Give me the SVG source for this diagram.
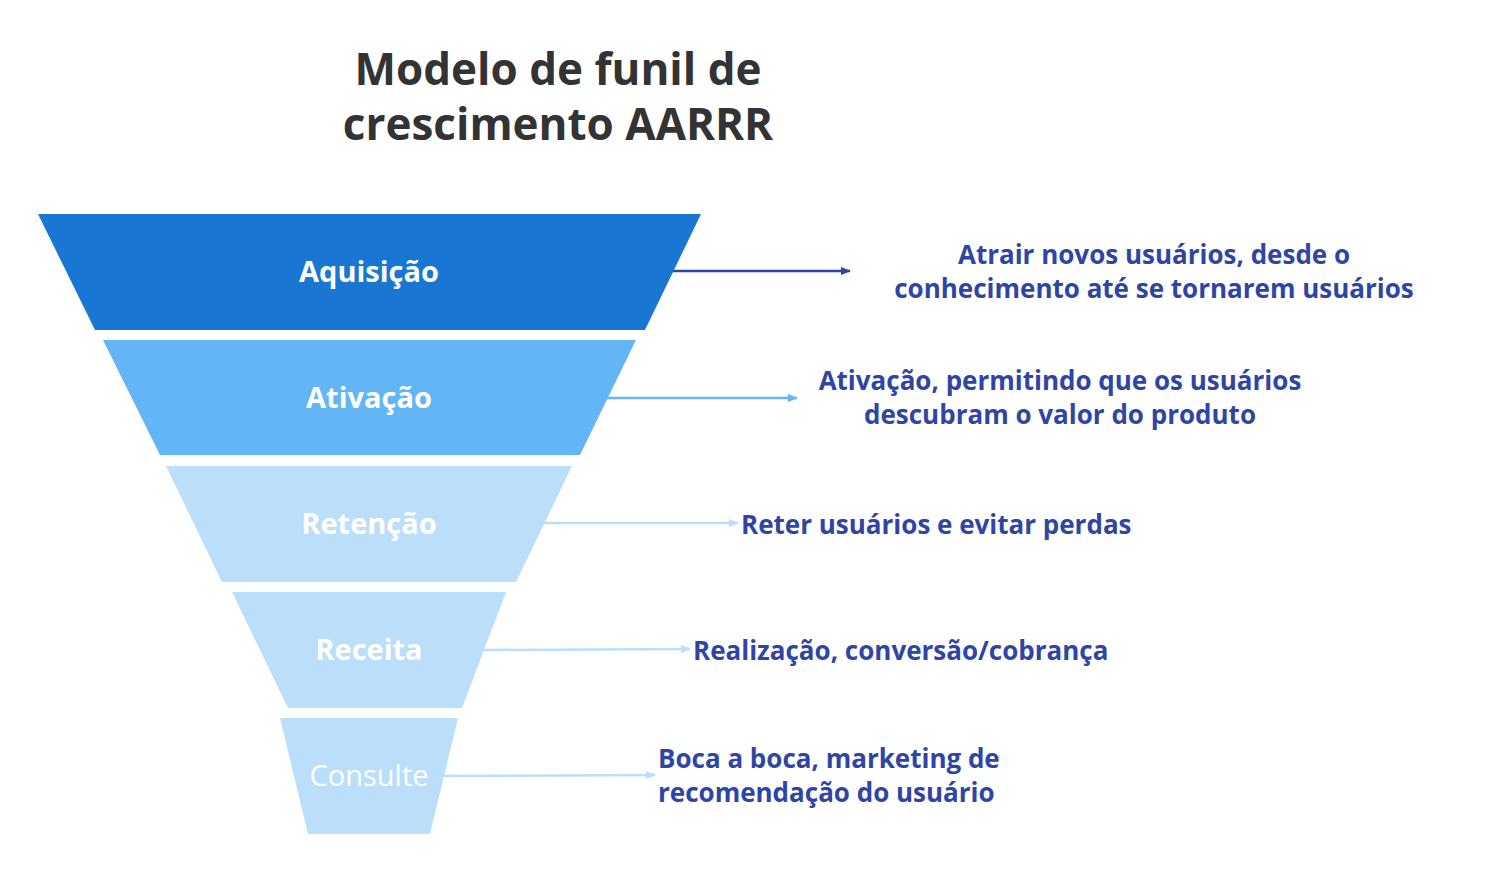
<svg xmlns="http://www.w3.org/2000/svg" width="1493" height="871" viewBox="0 0 1493 871">
<style>
.t{font-family:"Open Sans","Noto Sans","Liberation Sans",sans-serif;font-weight:bold;}
.lbl{font-size:29px;fill:#fff;text-anchor:middle;}
.d{font-size:26px;fill:#2f45a5;}
</style>
<defs>
<marker id="m1" markerWidth="10" markerHeight="8" refX="9" refY="4" orient="auto" markerUnits="userSpaceOnUse" viewBox="0 0 10 8"><path d="M0,0L10,4L0,8z" fill="#2f45a5"/></marker>
<marker id="m2" markerWidth="10" markerHeight="8" refX="9" refY="4" orient="auto" markerUnits="userSpaceOnUse" viewBox="0 0 10 8"><path d="M0,0L10,4L0,8z" fill="#64b5f6"/></marker>
<marker id="m3" markerWidth="10" markerHeight="8" refX="9" refY="4" orient="auto" markerUnits="userSpaceOnUse" viewBox="0 0 10 8"><path d="M0,0L10,4L0,8z" fill="#bbdefb"/></marker>
</defs>
<rect width="1493" height="871" fill="#fff"/>
<text class="t" x="558" y="85" font-size="44" fill="#333" text-anchor="middle">Modelo de funil de</text>
<text class="t" x="558" y="140" font-size="44" fill="#333" text-anchor="middle">crescimento AARRR</text>
<g id="connectors" stroke-width="2.5" fill="none">
<line x1="672" y1="271" x2="850" y2="271" stroke="#2f45a5" marker-end="url(#m1)"/>
<line x1="607" y1="398" x2="797" y2="398" stroke="#64b5f6" marker-end="url(#m2)"/>
<line x1="544" y1="523" x2="738" y2="523" stroke="#bbdefb" marker-end="url(#m3)"/>
<line x1="484" y1="650" x2="690" y2="649" stroke="#bbdefb" marker-end="url(#m3)"/>
<line x1="444" y1="776" x2="655" y2="775" stroke="#bbdefb" marker-end="url(#m3)"/>
</g>
<g id="n1"><polygon points="38,214 701,214 645,330 95,330" fill="#1976d2"/><text class="t lbl" x="369" y="282">Aquisição</text></g>
<g id="n2"><polygon points="103,340 636,340 580,455 160,455" fill="#64b5f6"/><text class="t lbl" x="369" y="408">Ativação</text></g>
<g id="n3"><polygon points="166,466 572,466 516,582 222,582" fill="#bbdefb"/><text class="t lbl" x="369" y="534">Retenção</text></g>
<g id="n4"><polygon points="232,592 506,592 462,708 288,708" fill="#bbdefb"/><text class="t lbl" x="369" y="660">Receita</text></g>
<g id="n5"><polygon points="280,718 458,718 430,834 308,834" fill="#bbdefb"/><text class="lbl" x="369" y="786" font-family="Open Sans,Noto Sans,sans-serif">Consulte</text></g>
<g id="d1"><text class="t d" x="1154" y="264" text-anchor="middle">Atrair novos usuários, desde o</text><text class="t d" x="1154" y="298" text-anchor="middle">conhecimento até se tornarem usuários</text></g>
<g id="d2"><text class="t d" x="1060" y="390" text-anchor="middle">Ativação, permitindo que os usuários</text><text class="t d" x="1060" y="424" text-anchor="middle">descubram o valor do produto</text></g>
<g id="d3"><text class="t d" x="741" y="534">Reter usuários e evitar perdas</text></g>
<g id="d4"><text class="t d" x="693" y="660">Realização, conversão/cobrança</text></g>
<g id="d5"><text class="t d" x="658" y="768">Boca a boca, marketing de</text><text class="t d" x="658" y="802">recomendação do usuário</text></g>
</svg>
